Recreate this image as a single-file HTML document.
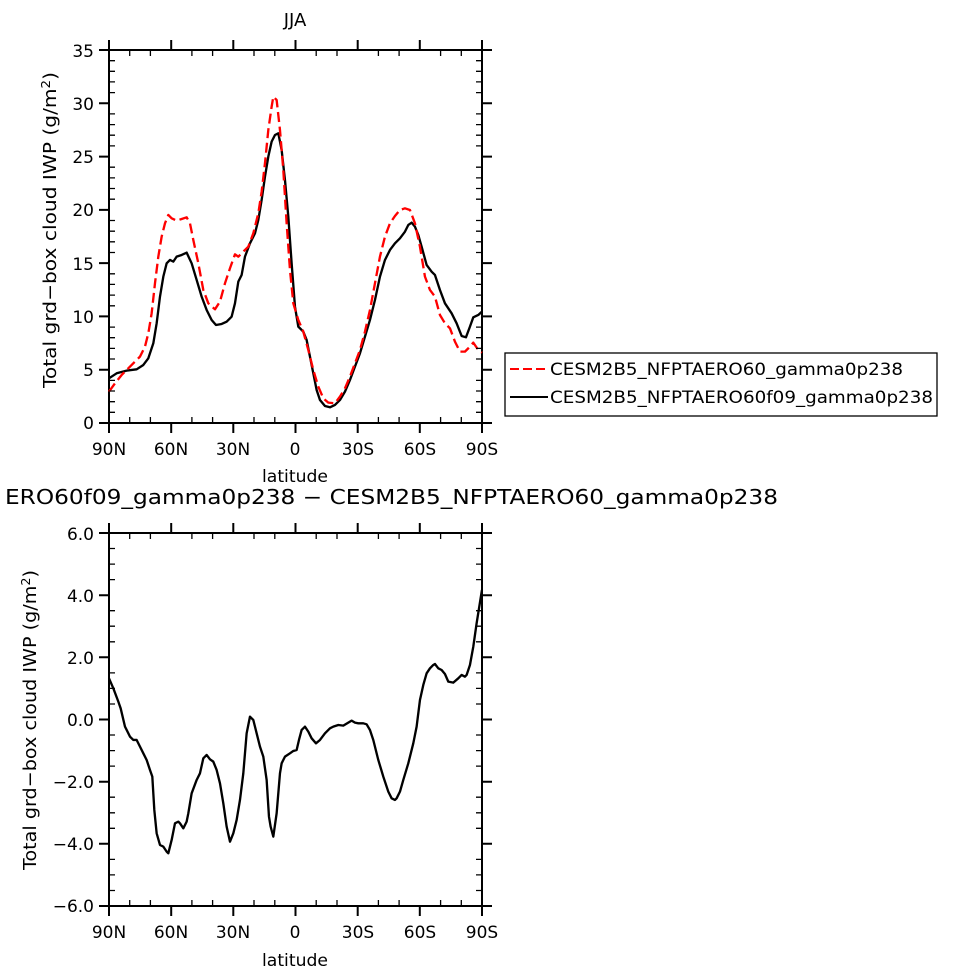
<!DOCTYPE html>
<html><head><meta charset="utf-8"><style>body{margin:0;background:#fff}svg{display:block}text{font-family:"DejaVu Sans","Liberation Sans",sans-serif;fill:#000}</style></head>
<body>
<svg width="975" height="975" viewBox="0 0 975 975" xmlns="http://www.w3.org/2000/svg">
<text x="295" y="26" font-size="18" text-anchor="middle">JJA</text>
<g id="top">
<rect x="109" y="50" width="373" height="373" fill="none" stroke="#000" stroke-width="2"/>
<g stroke="#000" stroke-width="2">
<path d="M109 50v-10M171.2 50v-10M233.3 50v-10M295.5 50v-10M357.7 50v-10M419.8 50v-10M482 50v-10M109 423v10M171.2 423v10M233.3 423v10M295.5 423v10M357.7 423v10M419.8 423v10M482 423v10"/>
<path d="M99 423h10M99 369.7h10M99 316.4h10M99 263.1h10M99 209.9h10M99 156.6h10M99 103.3h10M99 50h10M482 423h10M482 369.7h10M482 316.4h10M482 263.1h10M482 209.9h10M482 156.6h10M482 103.3h10M482 50h10"/>
</g>
<g font-size="17" text-anchor="end">
<text x="94" y="429">0</text><text x="94" y="376">5</text><text x="94" y="323">10</text><text x="94" y="270">15</text><text x="94" y="216">20</text><text x="94" y="163">25</text><text x="94" y="110">30</text><text x="94" y="57">35</text>
</g>
<g font-size="17" text-anchor="middle">
<text x="109" y="455">90N</text><text x="171" y="455">60N</text><text x="233" y="455">30N</text><text x="295" y="455">0</text><text x="358" y="455">30S</text><text x="420" y="455">60S</text><text x="482" y="455">90S</text>
</g>
<text x="262" y="482" font-size="17" textLength="66" lengthAdjust="spacingAndGlyphs">latitude</text>
<text transform="translate(56,388) rotate(-90)" font-size="18" textLength="316" lengthAdjust="spacingAndGlyphs">Total grd−box cloud IWP (g/m<tspan dy="-6" font-size="12">2</tspan><tspan dy="6">)</tspan></text>
<g transform="translate(0,30) scale(0.3333)" fill="none" stroke-linejoin="round">
<polyline stroke="#000" stroke-width="7" points="327,1045 350,1030 380,1022 410,1018 430,1005 445,985 460,940 470,880 480,800 490,740 500,700 510,690 520,695 530,680 545,675 560,668 575,700 590,750 605,800 620,840 635,870 648,885 665,882 680,875 695,860 705,820 715,755 725,735 735,680 750,640 765,610 775,570 785,510 795,440 805,380 815,335 825,315 835,310 845,360 855,450 865,560 875,700 885,830 895,890 910,905 920,930 930,980 940,1030 950,1080 960,1110 975,1128 990,1132 1005,1125 1020,1110 1035,1085 1050,1050 1065,1010 1080,970 1095,920 1110,870 1125,810 1140,740 1155,690 1170,660 1185,640 1200,625 1215,605 1225,585 1235,578 1245,590 1255,615 1265,650 1280,705 1295,725 1305,735 1320,780 1335,820 1355,850 1370,880 1385,918 1398,922 1410,890 1420,862 1435,855 1446,845"/>
<polyline stroke="#f00" stroke-width="7" stroke-dasharray="30,14" points="327,1085 345,1060 365,1035 385,1015 405,995 420,980 435,950 445,910 455,850 465,760 475,680 485,620 495,580 505,555 515,565 530,572 545,567 560,562 570,580 580,630 595,700 610,780 625,820 645,838 660,815 675,760 690,715 705,673 715,680 730,665 745,650 760,610 775,550 785,485 795,400 805,300 815,230 820,200 830,210 840,300 850,420 860,580 870,720 880,820 895,870 910,905 925,960 940,1020 955,1070 970,1105 985,1118 1005,1120 1020,1100 1035,1075 1050,1040 1065,1000 1080,960 1095,905 1110,840 1125,760 1140,680 1155,620 1170,580 1185,558 1200,540 1215,535 1230,540 1245,580 1260,650 1275,740 1290,780 1305,800 1320,855 1335,880 1350,895 1365,935 1380,965 1395,965 1410,950 1420,938 1435,960 1446,968"/>
</g>
</g>
<rect x="505" y="353" width="432" height="63" fill="#fff" stroke="#000" stroke-width="1.3"/>
<line x1="510" y1="369" x2="548" y2="369" stroke="#f00" stroke-width="2" stroke-dasharray="9,4"/>
<line x1="510" y1="397" x2="548" y2="397" stroke="#000" stroke-width="2"/>
<text x="550" y="375" font-size="17" textLength="353" lengthAdjust="spacingAndGlyphs">CESM2B5_NFPTAERO60_gamma0p238</text>
<text x="550" y="403" font-size="17" textLength="383" lengthAdjust="spacingAndGlyphs">CESM2B5_NFPTAERO60f09_gamma0p238</text>

<text x="5" y="504" font-size="20" textLength="773" lengthAdjust="spacingAndGlyphs">ERO60f09_gamma0p238 − CESM2B5_NFPTAERO60_gamma0p238</text>
<g id="bot">
<rect x="109" y="533" width="373" height="373" fill="none" stroke="#000" stroke-width="2"/>
<g stroke="#000" stroke-width="2">
<path d="M109 533v-10M171.2 533v-10M233.3 533v-10M295.5 533v-10M357.7 533v-10M419.8 533v-10M482 533v-10M109 906v10M171.2 906v10M233.3 906v10M295.5 906v10M357.7 906v10M419.8 906v10M482 906v10"/>
<path d="M99 533h10M99 595.2h10M99 657.3h10M99 719.5h10M99 781.7h10M99 843.8h10M99 906h10M482 533h10M482 595.2h10M482 657.3h10M482 719.5h10M482 781.7h10M482 843.8h10M482 906h10"/>
</g>
<g font-size="17" text-anchor="end">
<text x="94" y="540">6.0</text><text x="94" y="602">4.0</text><text x="94" y="664">2.0</text><text x="94" y="726">0.0</text><text x="94" y="788">−2.0</text><text x="94" y="850">−4.0</text><text x="94" y="912">−6.0</text>
</g>
<g font-size="17" text-anchor="middle">
<text x="109" y="938">90N</text><text x="171" y="938">60N</text><text x="233" y="938">30N</text><text x="295" y="938">0</text><text x="358" y="938">30S</text><text x="420" y="938">60S</text><text x="482" y="938">90S</text>
</g>
<text x="262" y="966" font-size="17" textLength="66" lengthAdjust="spacingAndGlyphs">latitude</text>
<text transform="translate(36,870) rotate(-90)" font-size="18" textLength="300" lengthAdjust="spacingAndGlyphs">Total grd−box cloud IWP (g/m<tspan dy="-6" font-size="12">2</tspan><tspan dy="6">)</tspan></text>
<g transform="translate(0,480) scale(0.3333)" fill="none" stroke-linejoin="round">
<polyline stroke="#000" stroke-width="7" points="327,595 340,625 355,665 362,685 375,740 390,770 400,780 410,780 420,800 430,820 440,840 450,870 457,890 463,990 470,1060 480,1095 490,1100 500,1115 505,1120 515,1080 525,1030 535,1025 540,1030 550,1045 560,1025 565,1000 575,940 590,900 600,880 610,835 620,825 630,838 640,845 650,870 660,910 670,970 680,1040 690,1085 700,1060 710,1020 720,960 730,880 740,760 750,710 760,720 770,760 780,800 790,830 800,900 807,1010 812,1040 820,1070 830,1000 840,880 845,850 855,830 870,820 880,813 890,810 897,780 905,750 915,740 925,755 935,775 948,790 960,780 975,760 990,745 1000,740 1015,735 1030,737 1045,728 1055,722 1065,728 1075,730 1090,730 1100,733 1110,750 1120,780 1135,840 1150,890 1165,935 1175,955 1185,960 1190,955 1200,935 1210,900 1225,850 1240,790 1250,740 1260,660 1270,615 1280,580 1290,565 1300,555 1305,552 1315,565 1325,570 1335,582 1345,605 1360,608 1375,595 1385,585 1395,590 1400,585 1410,555 1420,500 1430,430 1446,330"/>
</g>
</g>
<g stroke="#000" stroke-width="1.3">
<path d="M129.7 50v6M150.4 50v6M191.9 50v6M212.6 50v6M254 50v6M274.8 50v6M316.2 50v6M337 50v6M378.4 50v6M399.1 50v6M440.6 50v6M461.3 50v6M129.7 423v-6M150.4 423v-6M191.9 423v-6M212.6 423v-6M254 423v-6M274.8 423v-6M316.2 423v-6M337 423v-6M378.4 423v-6M399.1 423v-6M440.6 423v-6M461.3 423v-6"/>
<path d="M109 412.3h6M109 401.7h6M109 391h6M109 380.4h6M109 359h6M109 348.4h6M109 337.7h6M109 327.1h6M109 305.8h6M109 295.1h6M109 284.4h6M109 273.8h6M109 252.5h6M109 241.8h6M109 231.2h6M109 220.5h6M109 199.2h6M109 188.5h6M109 177.9h6M109 167.2h6M109 145.9h6M109 135.2h6M109 124.6h6M109 113.9h6M109 92.6h6M109 81.9h6M109 71.3h6M109 60.7h6"/>
<path d="M482 412.3h-6M482 401.7h-6M482 391h-6M482 380.4h-6M482 359h-6M482 348.4h-6M482 337.7h-6M482 327.1h-6M482 305.8h-6M482 295.1h-6M482 284.4h-6M482 273.8h-6M482 252.5h-6M482 241.8h-6M482 231.2h-6M482 220.5h-6M482 199.2h-6M482 188.5h-6M482 177.9h-6M482 167.2h-6M482 145.9h-6M482 135.2h-6M482 124.6h-6M482 113.9h-6M482 92.6h-6M482 81.9h-6M482 71.3h-6M482 60.7h-6"/>
<path d="M129.7 533v6M150.4 533v6M191.9 533v6M212.6 533v6M254 533v6M274.8 533v6M316.2 533v6M337 533v6M378.4 533v6M399.1 533v6M440.6 533v6M461.3 533v6M129.7 906v-6M150.4 906v-6M191.9 906v-6M212.6 906v-6M254 906v-6M274.8 906v-6M316.2 906v-6M337 906v-6M378.4 906v-6M399.1 906v-6M440.6 906v-6M461.3 906v-6"/>
<path d="M109 548.5h6M109 564.1h6M109 579.6h6M109 610.7h6M109 626.2h6M109 641.8h6M109 672.9h6M109 688.4h6M109 704h6M109 735h6M109 750.6h6M109 766.1h6M109 797.2h6M109 812.8h6M109 828.3h6M109 859.4h6M109 874.9h6M109 890.5h6"/>
<path d="M482 548.5h-6M482 564.1h-6M482 579.6h-6M482 610.7h-6M482 626.2h-6M482 641.8h-6M482 672.9h-6M482 688.4h-6M482 704h-6M482 735h-6M482 750.6h-6M482 766.1h-6M482 797.2h-6M482 812.8h-6M482 828.3h-6M482 859.4h-6M482 874.9h-6M482 890.5h-6"/>
</g>
</svg>
</body></html>
